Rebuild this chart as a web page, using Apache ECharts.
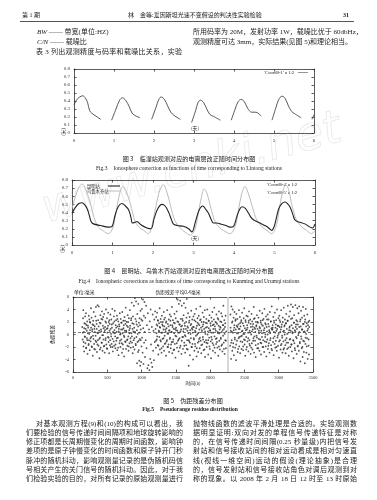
<!DOCTYPE html>
<html>
<head>
<meta charset="utf-8">
<script src="https://cdn.jsdelivr.net/npm/echarts@6/dist/echarts.min.js"></script>
<style>
  html, body { margin: 0; padding: 0; background: #fff; }
  .page { position: relative; width: 377px; height: 500px; overflow: hidden; background: #fff; }
  #chart { position: absolute; left: 0; top: 0; width: 377px; height: 500px; }
  .ln {
    position: absolute;
    font-family: 'Liberation Serif', 'Noto Sans CJK SC', serif;
    font-size: 7px;
    line-height: 9px;
    height: 9px;
    color: #222;
    white-space: nowrap;
  }
  .jf { text-align: justify; text-align-last: justify; }
  .hd { font-size: 6px; }
</style>
</head>
<body>
<div class="page">
  <div id="chart"></div>

  <!-- 页眉 -->
  <div class="ln hd" style="left:22px;top:11px;">第 1 期</div>
  <div class="ln hd" style="left:128px;top:11px;">林　金等:爱因斯坦光速不变假设的判决性实验检验</div>
  <div class="ln hd" style="left:343px;top:11px;font-weight:bold;">31</div>
  <div style="position:absolute;left:20px;top:21px;width:334px;height:0;border-top:0.8px solid #555;"></div>

  <!-- 上部正文 -->
  <div class="ln" style="left:37px;top:28px;"><i>BW</i> —— 带宽(单位:HZ)</div>
  <div class="ln" style="left:37px;top:38px;"><i>C/N</i> —— 载噪比</div>
  <div class="ln jf" style="left:36px;top:48px;width:146px;">表 3 列出观测精度与码率和载噪比关系，实验</div>
  <div class="ln jf" style="left:193px;top:28px;width:160px;">所用码率为 20M，发射功率 1W，载噪比优于 60dbHz，</div>
  <div class="ln" style="left:193px;top:38px;">观测精度可达 3mm，实际结果(见图 5)和理论相当。</div>

  <!-- 下部正文 左栏 -->
  <div class="ln jf" style="left:36px;top:420px;width:147px;">对基本观测方程(9)和(10)的构成可以看出，我</div>
  <div class="ln jf" style="left:26px;top:429px;width:157px;">们要检验的信号传递时间间隔项和地球旋转影响的</div>
  <div class="ln jf" style="left:26px;top:438px;width:157px;">修正项都是长周期慢变化的周期时间函数，影响钟</div>
  <div class="ln jf" style="left:26px;top:447px;width:157px;">差项的是原子钟慢变化的时间函数和原子钟开门秒</div>
  <div class="ln jf" style="left:26px;top:457px;width:157px;">脉冲的随机抖动，影响观测量记录的是伪随机码信</div>
  <div class="ln jf" style="left:26px;top:466px;width:157px;">号相关产生的关门信号的随机抖动。因此，对于我</div>
  <div class="ln jf" style="left:26px;top:475px;width:157px;">们检验实验的目的，对所有记录的原始观测量进行</div>

  <!-- 下部正文 右栏 -->
  <div class="ln jf" style="left:193px;top:420px;width:164px;">抛物线函数的滤波平滑处理是合适的。实验观测数</div>
  <div class="ln jf" style="left:193px;top:429px;width:164px;">据明显证明:双向对发的单程信号传递特征是对称</div>
  <div class="ln jf" style="left:193px;top:438px;width:164px;">的，在信号传递时间间隔(0.25 秒量级)内把信号发</div>
  <div class="ln jf" style="left:193px;top:447px;width:164px;">射站和信号接收站间的相对运动看成是相对匀速直</div>
  <div class="ln jf" style="left:193px;top:457px;width:164px;">线(视线一维空间)运动的假设(理论抽象)是合理</div>
  <div class="ln jf" style="left:193px;top:466px;width:164px;">的，信号发射站和信号接收站角色对调后观测到对</div>
  <div class="ln jf" style="left:193px;top:475px;width:164px;">称的现象。以 2008 年 2 月 18 日 12 时至 13 时原始</div>
</div>

<script>
// 图3 临潼站 (null 表示断开)
var lintongDay = [0, 0.06, 0.14, 0.22, 0.28, 0.34, 0.39, 0.45, 0.55, 0.67, null,
  0.94, 1.05, 1.14, 1.21, 1.29, 1.38, 1.45, 1.52, 1.65, null,
  1.94, 2.05, 2.12, 2.18, 2.26, 2.34, 2.42, 2.5, 2.66, null,
  2.94, 3.04, 3.1, 3.16, 3.24, 3.32, 3.4, 3.48, 3.66, null,
  3.93, 4.03, 4.1, 4.18, 4.26, 4.34, 4.44, 4.55, 4.68, null,
  4.95, 5.05, 5.12, 5.2, 5.28, 5.36, 5.44, 5.52, 5.68, null,
  5.95, 6.0];
var lintongVal = [0.35, 0.41, 0.45, 0.465, 0.44, 0.38, 0.28, 0.245, 0.21, 0.17, null,
  0.16, 0.3, 0.41, 0.44, 0.41, 0.33, 0.25, 0.22, 0.19, null,
  0.17, 0.32, 0.42, 0.45, 0.42, 0.34, 0.26, 0.22, 0.17, null,
  0.13, 0.28, 0.38, 0.41, 0.38, 0.3, 0.23, 0.21, 0.16, null,
  0.16, 0.3, 0.39, 0.42, 0.39, 0.31, 0.26, 0.26, 0.21, null,
  0.16, 0.32, 0.42, 0.46, 0.43, 0.34, 0.27, 0.24, 0.19, null,
  0.17, 0.23];

// 图4 昆明站 / 乌鲁木齐站
var kunmingDay = [0, 0.08, 0.17, 0.25, 0.32, 0.38, 0.43, 0.47, 0.53, 0.7, 0.9, 0.99,
  1.06, 1.14, 1.23, 1.32, 1.4, 1.46, 1.49, 1.56, 1.6, 1.7, 1.85, 1.95,
  2.03, 2.12, 2.22, 2.3, 2.38, 2.45, 2.5, 2.6, 2.75, 2.88, 2.96,
  3.05, 3.14, 3.23, 3.3, 3.37, 3.44, 3.49, 3.58, 3.66, 3.8, 3.9, 3.99,
  4.07, 4.14, 4.2, 4.28, 4.36, 4.42, 4.48, 4.56, 4.64, 4.8, 4.9, 4.93,
  5.0, 5.1, 5.18, 5.26, 5.32, 5.38, 5.45, 5.5, 5.56, 5.63, 5.75, 5.88, 5.94, 6.0];
var kunmingVal = [0.39, 0.46, 0.51, 0.52, 0.49, 0.44, 0.36, 0.29, 0.26, 0.24, 0.22, 0.23,
  0.36, 0.47, 0.51, 0.48, 0.43, 0.33, 0.27, 0.28, 0.29, 0.25, 0.21, 0.2,
  0.33, 0.45, 0.5, 0.48, 0.41, 0.32, 0.26, 0.24, 0.23, 0.2, 0.16,
  0.29, 0.43, 0.48, 0.44, 0.39, 0.31, 0.27, 0.27, 0.26, 0.24, 0.22, 0.23,
  0.35, 0.44, 0.47, 0.45, 0.39, 0.34, 0.31, 0.29, 0.27, 0.23, 0.19, 0.18,
  0.24, 0.44, 0.51, 0.53, 0.51, 0.47, 0.38, 0.31, 0.29, 0.28, 0.26, 0.22, 0.21, 0.26];
var urumqiDay = [0, 0.08, 0.17, 0.25, 0.33, 0.4, 0.46, 0.52, 0.58, 0.65, 0.75, 0.9, 0.97,
  1.03, 1.1, 1.18, 1.26, 1.34, 1.44, 1.5, 1.56, 1.65, 1.77, 1.89,
  1.97, 2.05, 2.14, 2.22, 2.26, 2.33, 2.42, 2.48, 2.55, 2.67, 2.79, 2.92,
  3.04, 3.12, 3.2, 3.26, 3.33, 3.41, 3.47, 3.53, 3.63, 3.74, 3.9,
  4.03, 4.11, 4.19, 4.27, 4.35, 4.44, 4.5, 4.56, 4.68, 4.81, 4.93,
  5.05, 5.12, 5.2, 5.28, 5.35, 5.42, 5.48, 5.54, 5.66, 5.79, 5.92, 6.0];
var urumqiVal = [0.45, 0.59, 0.71, 0.75, 0.7, 0.6, 0.5, 0.38, 0.29, 0.22, 0.18, 0.14, 0.17,
  0.25, 0.44, 0.64, 0.72, 0.66, 0.51, 0.39, 0.29, 0.22, 0.18, 0.14,
  0.23, 0.42, 0.63, 0.73, 0.74, 0.67, 0.51, 0.39, 0.29, 0.21, 0.16, 0.12,
  0.2, 0.4, 0.6, 0.69, 0.64, 0.49, 0.38, 0.29, 0.22, 0.18, 0.14,
  0.23, 0.43, 0.63, 0.72, 0.64, 0.49, 0.39, 0.31, 0.23, 0.18, 0.14,
  0.25, 0.45, 0.65, 0.74, 0.68, 0.51, 0.4, 0.31, 0.23, 0.18, 0.14, 0.18];

// 图5 伪距残差 [时间(s), 残差(mm)]
var residA = [[135,1.2],[140,-0.8],[146,2.6],[150,3.9],[153,-1.9],[158,0.4],[162,-2.7],[167,1.8],[171,-0.3],[176,2.9],[180,-1.4],[185,0.9],[189,3.4],[193,-2.2],[198,1.5],[203,-0.6],[207,2.1],[212,-3.1],[216,0.2],[221,1.1],[226,-1.7],[230,3.0],[234,-0.9],[239,2.4],[244,-2.5],[248,0.7],[253,1.9],[257,-1.1],[262,4.2],[266,-0.4],[271,2.7],[276,-2.0],[280,0.5],[285,1.6],[289,-3.4],[294,2.2],[298,-0.7],[303,3.6],[308,-1.5],[312,0.9],[317,1.3],[321,-2.4],[326,2.9],[330,-0.2],[335,4.4],[340,-1.2],[344,1.7],[349,-2.8],[353,0.3],[358,4.7],[362,-0.9],[367,2.3],[372,-1.8],[376,4.5],[381,0.6],[385,-3.8],[390,1.9],[394,-0.5],[399,3.1],[404,-2.1],[408,0.8],[413,2.5],[417,-1.3],[422,3.7],[426,-0.1],[431,-2.6],[436,1.4],[440,2.8],[445,-0.8],[449,-1.9],[454,3.3],[458,0.4],[463,-2.9],[468,1.2],[472,2.1],[477,-0.6],[481,4.0],[486,-1.6],[490,0.9],[495,2.6],[500,-2.3],[504,1.0],[509,-0.4],[513,3.5],[518,-1.2],[522,2.0],[527,-3.0],[532,0.6],[536,1.7],[541,-0.9],[545,3.2],[550,-2.0],[554,0.1],[559,2.4],[564,-1.5],[568,1.1],[573,4.1],[577,-0.7],[582,-2.7],[586,1.8],[591,0.3],[596,2.9],[600,-1.8],[605,0.7],[609,3.8],[614,-0.3],[618,-2.2],[623,1.5],[628,2.3],[632,-1.0],[637,0.4],[641,3.0],[646,-2.5],[650,1.3],[655,-0.5],[660,2.1],[664,-3.3],[669,0.9],[673,1.6],[678,-1.4],[682,3.4],[687,0.0],[692,-2.0],[696,2.5],[701,0.8],[705,-0.8],[710,1.9],[714,-2.9],[719,3.6],[724,0.2],[728,-1.6],[733,2.2],[737,1.0],[742,-0.2],[746,-3.5],[751,2.8],[756,0.6],[760,-1.1],[765,1.7],[769,4.3],[774,-2.3],[778,0.4],[783,2.0],[788,-0.9],[792,-1.8],[797,3.1],[801,1.2],[806,-0.3],[810,-2.6],[815,2.6],[820,0.7],[824,-1.4],[829,3.9],[833,1.4],[838,-0.6],[842,-2.1],[847,2.3],[852,0.2],[856,5.1],[861,-1.3],[865,1.8],[870,-3.0],[874,2.9],[879,0.5],[884,-0.9],[888,4.6],[893,1.1],[897,-2.4],[902,5.8],[906,0.3],[911,2.5],[916,-1.7],[920,5.3],[925,-0.4],[929,1.6],[934,-4.6],[938,3.3],[943,0.1],[948,-2.8],[952,4.9],[957,-1.0],[961,1.9],[966,-4.2],[970,2.6],[975,-0.7],[980,-5.0],[984,3.8],[989,0.8],[993,-4.4],[998,-1.9]];
var residB = [[1005,4.1],[1008,-0.5],[1012,2.2],[1015,-2.9],[1020,5.6],[1024,1.0],[1028,-4.7],[1033,3.0],[1037,-1.3],[1042,5.2],[1046,0.4],[1050,-3.6],[1055,2.7],[1060,-0.9],[1066,4.6],[1072,-2.2],[1078,1.5],[1085,-5.4],[1092,3.4],[1100,-4.9],[1108,0.8],[1115,-5.7],[1120,2.1],[1126,-3.9],[1132,4.0],[1138,-1.6],[1144,-4.5],[1150,1.2],[1156,-5.2],[1162,3.2],[1168,-2.6],[1174,0.6],[1180,-4.1],[1186,2.4],[1192,-1.2],[1198,3.7]];
var residC = [[1204,0.9],[1209,-2.1],[1213,2.8],[1218,0.2],[1222,-0.8],[1227,3.5],[1232,1.4],[1236,-1.7],[1241,2.2],[1245,-3.2],[1250,0.6],[1255,1.8],[1259,-0.4],[1264,4.2],[1268,-2.4],[1273,1.1],[1278,2.5],[1282,-1.1],[1287,0.3],[1291,-2.9],[1296,3.0],[1301,1.6],[1305,-0.7],[1310,2.0],[1314,-1.9],[1319,0.8],[1324,3.6],[1328,-2.6],[1333,1.3],[1337,-0.2],[1342,2.7],[1347,-1.4],[1351,0.5],[1356,-3.4],[1360,2.1],[1365,1.0],[1370,-0.9],[1374,3.9],[1379,-2.0],[1383,1.7],[1388,0.1],[1393,-1.6],[1397,2.4],[1402,-2.8],[1406,0.7],[1411,3.2],[1416,-0.5],[1420,1.5],[1425,-2.2],[1429,2.9],[1434,0.4],[1439,-1.2],[1443,4.4],[1448,-3.0],[1452,1.2],[1457,2.3],[1462,-0.8],[1466,-2.5],[1471,1.9],[1475,0.2],[1480,3.3],[1485,-1.5],[1489,0.9],[1494,-3.7],[1498,2.6],[1503,1.1],[1508,-0.3],[1512,3.7],[1517,-2.1],[1521,0.6],[1526,5.6],[1531,-1.0],[1535,2.0],[1540,-2.7],[1544,4.9],[1549,0.3],[1554,-0.6],[1558,1.6],[1563,5.4],[1567,-1.8],[1572,2.5],[1577,0.8],[1581,-3.1],[1586,4.6],[1590,1.4],[1595,-0.4],[1600,2.2],[1604,-2.3],[1609,0.5],[1613,3.1],[1618,5.0],[1623,-1.3],[1627,1.8],[1632,-0.1],[1636,-2.9],[1641,4.3],[1646,0.9],[1650,-1.7],[1655,2.7],[1659,5.7],[1664,-0.9],[1669,1.3],[1673,-2.4],[1678,3.4],[1682,0.2],[1687,-5.0],[1692,1.9],[1696,-1.1],[1701,2.8],[1705,-3.3],[1710,0.7],[1715,1.5],[1719,-0.6],[1724,3.8],[1728,-2.0],[1733,1.0],[1738,2.4],[1742,-1.5],[1747,0.3],[1751,-4.0],[1756,2.9],[1761,1.2],[1765,-0.8],[1770,-2.6],[1774,3.3],[1779,0.6],[1784,-1.9],[1788,2.1],[1793,-0.2],[1797,4.1],[1802,-3.5],[1807,1.4],[1811,0.0],[1816,2.6],[1820,-1.3],[1825,-2.8],[1830,1.7],[1834,3.0],[1839,-0.7],[1843,0.8],[1848,-2.2],[1853,2.3],[1857,4.5],[1862,-1.0],[1866,1.1],[1871,-3.0],[1876,2.0],[1880,0.4],[1885,-1.6],[1889,3.5],[1894,-0.4],[1899,1.6],[1903,-2.5],[1908,2.8],[1912,0.9],[1917,-1.2],[1922,3.9],[1926,-3.6],[1931,0.1],[1935,1.9],[1940,-0.9],[1945,2.5],[1949,-2.0],[1954,1.2],[1958,4.0],[1963,-1.4],[1968,0.5],[1972,-3.2],[1977,2.2],[1981,1.0],[1986,-0.5],[1991,3.1],[1995,-2.3],[2000,0.7],[2004,1.8],[2009,-1.1],[2014,-3.8],[2018,2.7],[2023,0.3],[2027,-0.8],[2032,3.6],[2037,1.5],[2041,-2.6],[2046,0.9],[2050,-1.7],[2055,2.4],[2060,4.3],[2064,-0.3],[2069,1.3],[2073,-2.9],[2078,2.0],[2083,0.6],[2087,-1.5],[2092,3.2],[2096,-0.6],[2101,1.7],[2106,-2.1],[2110,2.6],[2115,0.2],[2119,-3.4],[2124,1.4],[2129,3.7],[2133,-1.0],[2138,0.8],[2142,-2.4],[2147,2.1],[2152,1.1],[2156,-0.7],[2161,3.4],[2165,-1.8],[2170,0.4],[2175,2.9],[2179,-2.7],[2184,1.5],[2188,-0.2],[2193,4.6],[2198,-1.3],[2202,0.9],[2207,2.3],[2211,-3.1],[2216,1.2],[2221,-0.9],[2225,3.0],[2230,-2.2],[2234,0.5]];
var residD = [[2292,-1.8],[2296,3.2],[2301,0.6],[2305,-3.9],[2310,4.5],[2314,-0.9],[2319,1.9],[2323,-2.6],[2328,4.0],[2332,0.3],[2337,-1.4],[2342,2.7],[2346,-3.3],[2351,1.1],[2355,3.6],[2360,-0.5],[2365,-2.1],[2369,2.2],[2374,0.8],[2378,-4.1],[2383,3.3],[2388,1.4],[2392,-1.0],[2397,2.5],[2401,-2.8],[2406,0.2],[2411,1.6],[2415,-0.6],[2420,3.9],[2424,-1.9],[2429,0.9],[2434,2.8],[2438,-3.0],[2443,1.3],[2447,-0.3],[2452,2.0],[2457,-2.3],[2461,0.5],[2466,3.5],[2470,-1.2],[2475,1.8],[2480,-2.5],[2484,0.1],[2489,2.6],[2493,-0.8],[2498,4.2],[2503,-1.6],[2507,1.0],[2512,-3.4],[2516,2.3],[2521,0.7],[2526,-0.4],[2530,3.0],[2535,-2.0],[2539,1.5],[2544,-1.1],[2549,2.9],[2553,0.3],[2558,-2.7],[2562,1.9],[2567,3.7],[2572,-0.9],[2576,0.6],[2581,-1.8],[2585,2.4],[2590,-3.1],[2595,1.2],[2599,0.0],[2604,3.3],[2608,-1.4],[2613,2.1],[2618,-2.4],[2622,0.8],[2627,1.7],[2631,-0.6],[2636,4.4],[2641,-2.9],[2645,1.1],[2650,2.6],[2654,-1.0],[2659,0.4],[2664,-3.6],[2668,2.0],[2673,1.3],[2677,-0.2],[2682,3.1],[2687,-2.2],[2691,0.9],[2696,1.9],[2700,-1.5],[2705,2.7],[2710,-0.7],[2714,0.2],[2719,-2.6],[2723,3.8],[2728,1.0],[2733,-1.3],[2737,2.2],[2742,-3.2],[2746,0.6],[2751,1.6],[2756,-0.4],[2760,3.4],[2765,-2.0],[2769,1.4],[2774,-0.9],[2779,2.5],[2783,0.3],[2788,-2.8],[2792,4.1],[2797,-1.1],[2802,1.8],[2806,0.0],[2811,-1.9],[2815,2.9],[2820,-3.5],[2825,1.2],[2829,0.5],[2834,-0.8],[2838,3.2],[2843,-2.3],[2848,1.7],[2852,2.4],[2857,-1.4],[2861,0.7],[2866,-2.9],[2871,3.6],[2875,0.2],[2880,-0.6],[2884,2.1],[2889,-1.7],[2894,1.0],[2898,4.5],[2903,-2.5],[2907,0.8],[2912,1.5],[2917,-1.2],[2921,2.8],[2926,-3.3],[2930,0.4],[2935,1.9],[2940,-0.3],[2944,3.5],[2949,-2.1],[2953,1.1],[2958,-1.0],[2963,2.3],[2967,0.6],[2972,-2.6],[2976,4.0],[2981,-0.5],[2986,1.4],[2990,-1.8],[2995,2.6],[2999,0.1],[3004,-3.7],[3009,3.0],[3013,1.2],[3018,-0.9],[3022,2.0],[3027,-2.4],[3032,0.8],[3036,3.9],[3041,-1.5],[3045,1.6],[3050,-0.2],[3055,-2.9],[3059,2.7],[3064,0.5],[3068,-1.1],[3073,4.3],[3078,-2.2],[3082,1.3],[3087,0.0],[3091,2.4],[3096,-1.7],[3101,-3.0],[3105,1.8],[3110,3.3],[3114,-0.6],[3119,0.9],[3124,-2.3],[3128,2.2],[3133,4.6],[3137,-1.3],[3142,0.3],[3147,-3.4],[3151,2.9],[3156,1.1],[3160,-0.8],[3165,3.7],[3170,-2.0],[3174,0.6],[3179,4.8],[3183,-1.6],[3188,1.5],[3193,-2.7],[3197,2.6],[3202,0.2],[3206,4.4],[3211,-0.9],[3216,-3.8],[3220,1.9],[3225,3.1],[3229,-1.4],[3234,0.7],[3239,-2.5],[3243,4.7],[3248,1.2],[3252,-0.4],[3257,2.3],[3262,-3.1],[3266,0.9],[3271,4.2],[3275,-1.9],[3280,1.6],[3285,-0.1],[3289,3.4],[3294,-2.6],[3298,4.5],[3303,0.4],[3308,-1.2],[3312,2.1],[3317,-4.3],[3321,1.3],[3326,3.8],[3331,-0.7],[3335,-2.2],[3340,2.7],[3344,0.8],[3349,-3.6],[3354,4.4],[3358,-1.0],[3363,1.7],[3367,-2.8],[3372,3.0],[3377,0.5],[3381,-4.6],[3386,2.4],[3390,-1.5],[3395,4.1],[3400,0.1],[3404,-2.9],[3409,1.8],[3413,-0.6],[3418,3.2],[3423,-3.9],[3427,0.9],[3432,2.0],[3436,-1.8],[3441,-3.2],[3445,1.2]];
// 中间密集带 (-2.5 ~ 2.5)
var residCore = [[142,0.3],[155,-1.2],[163,1.0],[174,-0.4],[183,1.7],[191,-2.1],[201,0.6],[209,-0.9],[218,1.4],[228,-1.5],[237,0.1],[246,2.0],[255,-0.6],[264,1.1],[273,-1.9],[282,0.8],[291,-0.2],[300,1.5],[310,-2.3],[319,0.4],[328,-1.0],[338,2.2],[347,0.9],[356,-1.6],[365,0.2],[374,1.3],[383,-0.7],[392,-2.4],[401,1.8],[411,0.5],[420,-1.3],[429,2.4],[438,-0.1],[447,1.0],[456,-1.8],[466,0.7],[475,-0.9],[484,1.9],[493,-2.2],[502,0.3],[511,1.4],[520,-0.5],[530,2.3],[539,-1.7],[548,0.9],[557,-0.3],[566,1.6],[575,-2.0],[584,0.4],[594,-1.1],[603,2.1],[612,0.2],[621,-1.6],[630,1.1],[639,-0.6],[648,2.5],[658,-2.1],[667,0.5],[676,1.3],[685,-1.0],[694,0.1],[703,1.9],[712,-1.4],[722,0.8],[731,-2.3],[740,1.5],[749,-0.4],[758,2.2],[767,-1.2],[776,0.6],[786,1.4],[795,-0.8],[804,2.0],[813,-1.9],[822,0.2],[831,1.0],[840,-1.1],[850,2.6],[859,-0.3],[868,0.9],[877,-2.0],[886,1.7],[895,-0.6],[904,0.4],[914,-1.5],[923,2.1],[932,0.7],[941,-1.2],[950,1.3],[959,-2.5],[968,0.3],[978,1.5],[987,-0.9],[996,2.4],
  [1210,-1.0],[1219,1.6],[1228,-0.3],[1237,2.3],[1246,-1.8],[1256,0.5],[1265,1.2],[1274,-0.9],[1283,2.0],[1292,-2.2],[1301,0.3],[1311,1.4],[1320,-0.6],[1329,2.4],[1338,-1.5],[1347,0.8],[1356,1.9],[1366,-1.1],[1375,0.2],[1384,-2.0],[1393,1.3],[1402,0.6],[1412,-0.7],[1421,2.2],[1430,-1.6],[1439,0.4],[1448,1.5],[1457,-1.2],[1467,0.9],[1476,-2.4],[1485,1.8],[1494,-0.2],[1503,0.7],[1513,-1.4],[1522,2.1],[1531,0.3],[1540,-0.8],[1549,1.6],[1558,-2.1],[1568,0.5],[1577,1.3],[1586,-1.0],[1595,2.5],[1604,-0.4],[1614,0.9],[1623,-1.8],[1632,1.4],[1641,-0.3],[1650,2.0],[1659,-2.3],[1669,0.6],[1678,1.1],[1687,-0.9],[1696,2.2],[1705,-1.3],[1715,0.1],[1724,1.7],[1733,-2.0],[1742,0.8],[1751,1.2],[1760,-0.6],[1770,2.3],[1779,-1.5],[1788,0.4],[1797,1.0],[1806,-2.2],[1816,1.9],[1825,0.2],[1834,-1.1],[1843,1.5],[1852,-0.5],[1862,2.4],[1871,-1.7],[1880,0.7],[1889,1.3],[1898,-0.8],[1907,2.0],[1917,-2.4],[1926,0.5],[1935,1.1],[1944,-1.3],[1953,1.8],[1963,0.0],[1972,-0.9],[1981,2.2],[1990,-1.9],[1999,0.6],[2008,1.4],[2018,-0.4],[2027,2.1],[2036,-1.4],[2045,0.3],[2054,1.6],[2064,-2.1],[2073,0.9],[2082,-0.7],[2091,1.9],[2100,-1.2],[2109,0.4],[2119,2.4],[2128,-1.9],[2137,0.2],[2146,1.2],[2155,-0.5],[2165,2.0],[2174,-1.6],[2183,0.7],[2192,1.5],[2201,-2.3],[2210,0.1],[2220,1.8],[2229,-1.0],
  [2298,1.1],[2307,-1.3],[2316,0.4],[2325,2.1],[2334,-2.0],[2343,0.7],[2353,1.5],[2362,-0.8],[2371,2.4],[2380,-1.6],[2389,0.2],[2398,1.2],[2408,-2.3],[2417,0.9],[2426,-0.4],[2435,1.8],[2444,-1.1],[2454,2.3],[2463,-0.2],[2472,0.6],[2481,-1.9],[2490,1.4],[2500,0.1],[2509,-0.9],[2518,2.0],[2527,-2.4],[2536,0.8],[2545,1.1],[2555,-0.6],[2564,2.2],[2573,-1.5],[2582,0.3],[2591,1.7],[2601,-2.1],[2610,0.5],[2619,1.3],[2628,-1.0],[2637,2.5],[2646,-0.3],[2656,0.9],[2665,-1.7],[2674,1.5],[2683,-0.5],[2692,2.0],[2702,-2.2],[2711,0.6],[2720,1.2],[2729,-0.8],[2738,1.9],[2747,-1.4],[2757,0.2],[2766,2.3],[2775,-2.0],[2784,0.7],[2793,1.0],[2803,-0.4],[2812,1.6],[2821,-1.2],[2830,2.4],[2839,0.0],[2849,-1.8],[2858,1.3],[2867,0.5],[2876,-0.9],[2885,2.1],[2894,-2.3],[2904,0.8],[2913,1.1],[2922,-0.6],[2931,2.2],[2940,-1.5],[2950,0.3],[2959,1.6],[2968,-2.0],[2977,0.9],[2986,-0.2],[2996,1.4],[3005,-1.1],[3014,2.3],[3023,0.4],[3032,-1.7],[3041,1.2],[3051,-0.5],[3060,2.0],[3069,-2.4],[3078,0.6],[3087,1.5],[3097,-0.9],[3106,1.8],[3115,-1.3],[3124,0.1],[3133,2.2],[3142,-2.1],[3152,0.7],[3161,1.3],[3170,-0.7],[3179,2.5],[3188,-1.6],[3198,0.4],[3207,1.0],[3216,-1.0],[3225,1.9],[3234,-2.2],[3244,0.5],[3253,1.6],[3262,-0.6],[3271,2.1],[3280,-1.8],[3290,0.2],[3299,1.2],[3308,-1.4],[3317,2.4],[3326,-0.3],[3336,0.8],[3345,-2.0],[3354,1.7],[3363,0.4],[3372,-1.1],[3382,2.0],[3391,-0.5],[3400,1.3],[3409,-1.9],[3418,0.6],[3428,1.5],[3437,-0.8],[3446,2.2]];
var residMean = 0.4;
var gapTime = 2255;

var serif = "'Liberation Serif', serif";
var cjk = "'Noto Sans CJK SC', sans-serif";
var ink = '#333';

function pairs(xs, ys) {
  var out = [];
  for (var i = 0; i < xs.length; i++) out.push([xs[i], ys[i]]);
  return out;
}
// 按 null 拆分成几段
function segments(xs, ys) {
  var segs = [], cur = [];
  for (var i = 0; i < xs.length; i++) {
    if (xs[i] === null) { segs.push(cur); cur = []; continue; }
    cur.push([xs[i], ys[i]]);
  }
  if (cur.length) segs.push(cur);
  return segs;
}

// 四边带刻度的框
function boxX(grid, min, max, step, fs, margin) {
  var line = { show: true, onZero: false, lineStyle: { color: ink, width: 0.8 } };
  var tick = { show: true, inside: true, length: 2.5, lineStyle: { color: ink, width: 0.8 } };
  return [
    { gridIndex: grid, type: 'value', min: min, max: max, interval: step, position: 'bottom',
      axisLine: line, axisTick: tick, splitLine: { show: false },
      axisLabel: { fontSize: fs, color: ink, fontFamily: serif, margin: margin,
        formatter: function (v) { return String(v); } } },
    { gridIndex: grid, type: 'value', min: min, max: max, interval: step, position: 'top',
      axisLine: line, axisTick: tick, splitLine: { show: false }, axisLabel: { show: false } }
  ];
}
function boxY(grid, min, max, step, fs, margin, fmt) {
  var line = { show: true, onZero: false, lineStyle: { color: ink, width: 0.8 } };
  var tick = { show: true, inside: true, length: 2.5, lineStyle: { color: ink, width: 0.8 } };
  return [
    { gridIndex: grid, type: 'value', min: min, max: max, interval: step, position: 'left',
      axisLine: line, axisTick: tick, splitLine: { show: false },
      axisLabel: { fontSize: fs, color: ink, fontFamily: serif, margin: margin, formatter: fmt } },
    { gridIndex: grid, type: 'value', min: min, max: max, interval: step, position: 'right',
      axisLine: line, axisTick: tick, splitLine: { show: false }, axisLabel: { show: false } }
  ];
}

function txt(x, y, s, fs, font, align, extra) {
  var el = { type: 'text', silent: true, x: x, y: y,
    style: { text: s, fontSize: fs, fontFamily: font, fill: '#222',
      textAlign: align || 'left', textVerticalAlign: 'middle' } };
  if (extra) for (var k in extra) el.style[k] = extra[k];
  return el;
}
function vtxt(x, y, s, fs, font) {
  var el = txt(0, 0, s, fs, font, 'center');
  el.x = x; el.y = y; el.rotation = Math.PI / 2;
  return el;
}
function seg(x1, y1, x2, y2, color, w) {
  return { type: 'line', silent: true, shape: { x1: x1, y1: y1, x2: x2, y2: y2 },
    style: { stroke: color, lineWidth: w } };
}

var fmt1 = function (v) { return v === 0 ? '0' : v.toFixed(1); };
var fmtInt = function (v) { return String(v); };

var xAxes = [].concat(boxX(0, 0, 6, 1, 5, 5), boxX(1, 0, 6, 1, 5, 5), boxX(2, 0, 3500, 500, 4.5, 3));
var yAxes = [].concat(boxY(0, 0, 0.8, 0.1, 5, 4, fmt1), boxY(1, 0, 0.8, 0.1, 5, 4, fmt1),
  boxY(2, -6, 6, 2, 4.5, 4, fmtInt));
xAxes[4].name = '时间(s)';
xAxes[4].nameLocation = 'middle';
xAxes[4].nameGap = 9;
xAxes[4].nameTextStyle = { fontSize: 4.8, fontFamily: cjk, color: '#222' };
yAxes[4].name = '伪距残差';
yAxes[4].nameLocation = 'middle';
yAxes[4].nameGap = 9;
yAxes[4].nameTextStyle = { fontSize: 4.8, fontFamily: cjk, color: '#222' };

var series = [];
segments(lintongDay, lintongVal).forEach(function (s) {
  series.push({ type: 'line', xAxisIndex: 0, yAxisIndex: 0, data: s, smooth: 0.35,
    symbol: 'none', lineStyle: { color: '#444', width: 0.9 } });
});
series.push({ type: 'line', name: '乌鲁木齐站', xAxisIndex: 2, yAxisIndex: 2,
  data: pairs(urumqiDay, urumqiVal), smooth: 0.35, symbol: 'none',
  lineStyle: { color: '#b4b4b4', width: 0.9 } });
series.push({ type: 'line', name: '昆明站', xAxisIndex: 2, yAxisIndex: 2,
  data: pairs(kunmingDay, kunmingVal), smooth: 0.35, symbol: 'none',
  lineStyle: { color: '#222', width: 1.1 } });
[residA, residB, residC, residD, residCore].forEach(function (d, i) {
  var s = { type: 'scatter', xAxisIndex: 4, yAxisIndex: 4, data: d,
    symbol: 'circle', symbolSize: 1.8, itemStyle: { color: '#2a2a2a' } };
  if (i === 0) {
    s.markLine = { silent: true, symbol: 'none', label: { show: false }, animation: false,
      data: [
        { xAxis: gapTime, lineStyle: { color: '#cfcfcf', width: 1.6, type: 'solid' } },
        { yAxis: residMean, lineStyle: { color: '#444', width: 0.7, type: [3, 2] } }
      ] };
  }
  series.push(s);
});

var graphics = [
  // 水印
  { type: 'text', silent: true, x: 192, y: 170, rotation: 0.27, z: -10,
    style: { text: 'www.cnki.net', fontSize: 46, fontFamily: "'DejaVu Sans'", fontStyle: 'italic',
      fill: 'rgba(0,0,0,0)', stroke: '#e9e9e9', lineWidth: 0.8,
      textAlign: 'center', textVerticalAlign: 'middle' } },

  // 图3
  txt(294, 72.5, "'Coord8-1' u 1:2", 4.6, serif, 'right'),
  seg(298, 72.5, 308, 72.5, '#666', 0.7),
  txt(195, 128.5, '(天)', 4.8, cjk, 'center'),
  vtxt(63, 132, '(米)', 4.8, cjk),
  txt(189, 159, '图 3　临潼站观测对应的电离层改正随时间分布图', 6.1, cjk, 'center'),
  txt(189, 169, 'Fig.3　Ionosphere correction as functions of time corresponding to Lintong stations', 5.5, serif, 'center'),

  // 图4
  txt(87, 186, '昆明站', 4.3, cjk, 'left'),
  seg(108, 186, 120, 186, '#222', 1.1),
  txt(87, 191, '乌鲁木齐站', 4.3, cjk, 'left'),
  seg(108, 191, 120, 191, '#b4b4b4', 0.9),
  txt(297, 185, "'Coord8-4' u 1:2", 4.6, serif, 'right'),
  txt(297, 193, "'Coord8-5' u 1:2", 4.6, serif, 'right'),
  txt(195, 238, '(天)', 4.8, cjk, 'center'),
  vtxt(62, 249, '(米)', 4.8, cjk),
  txt(189, 271, '图 4　昆明站、乌鲁木齐站观测对应的电离层改正随时间分布图', 6.1, cjk, 'center'),
  txt(189, 282, 'Fig.4　Ionospheric corrections as functions of time corresponding to Kunming and Urumqi stations', 5.5, serif, 'center'),

  // 图5
  txt(74, 292, '单位:毫米', 4.8, cjk, 'left'),
  txt(178, 292, '伪距残差平均0.4毫米', 4.8, cjk, 'center'),
  txt(193, 401, '图 5　伪距残差分布图', 6.1, cjk, 'center'),
  txt(190, 410, 'Fig.5　Pseudorange residue distribution', 5.5, serif, 'center', { fontWeight: 'bold' })
];

var chart = echarts.init(document.getElementById('chart'));
chart.setOption({
  animation: false,
  backgroundColor: '#fff',
  grid: [
    { left: 74, top: 69, width: 240, height: 64 },
    { left: 72, top: 180, width: 243, height: 65 },
    { left: 73, top: 297, width: 240, height: 75 }
  ],
  xAxis: xAxes,
  yAxis: yAxes,
  series: series,
  graphic: graphics
});
</script>
</body>
</html>
